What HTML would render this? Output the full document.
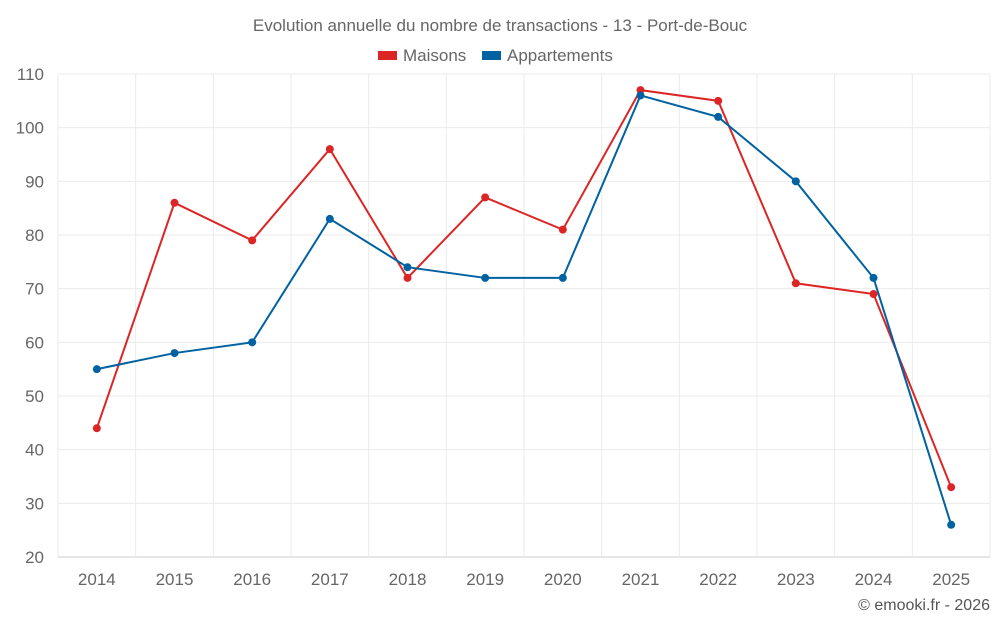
<!DOCTYPE html>
<html><head><meta charset="utf-8"><style>
body{margin:0;background:#fff;font-family:"Liberation Sans",sans-serif}
svg text{font-family:"Liberation Sans",sans-serif}
</style></head><body>
<svg id="c" width="1000" height="625">
<text x="500" y="31" text-anchor="middle" font-size="17" fill="#666">Evolution annuelle du nombre de transactions - 13 - Port-de-Bouc</text>
<g>
<rect x="378" y="51" width="19" height="9" fill="#dc2626"/>
<text x="403" y="61" font-size="17" fill="#666">Maisons</text>
<rect x="482" y="51" width="19" height="9" fill="#0062a0"/>
<text x="507" y="61" font-size="17" fill="#666">Appartements</text>
</g>
<g id="grid"></g><g id="axes"></g><g id="series"></g>
<text x="990" y="610" text-anchor="end" font-size="16" fill="#555">© emooki.fr - 2026</text>
</svg>
<script>
const years=["2014","2015","2016","2017","2018","2019","2020","2021","2022","2023","2024","2025"];
const maisons=[44,86,79,96,72,87,81,107,105,71,69,33];
const appartements=[55,58,60,83,74,72,72,106,102,90,72,26];
const yTicks=[20,30,40,50,60,70,80,90,100,110];
const L=58,R=990,T=74,B=557,yMin=20,yMax=110;
const bw=(R-L)/years.length;
const x=i=>L+bw*(i+0.5);
const y=v=>B-(v-yMin)/(yMax-yMin)*(B-T);
const NS="http://www.w3.org/2000/svg";
function mk(t,a,p){const e=document.createElementNS(NS,t);for(const k in a)e.setAttribute(k,a[k]);p.appendChild(e);return e;}
const g=document.getElementById('grid'),ax=document.getElementById('axes'),s=document.getElementById('series');
yTicks.forEach(v=>{
 const l=mk('line',{x1:L,x2:R,y1:y(v),y2:y(v),stroke:v===yMin?'#ccc':'#ebebeb'},g);
 
 
 const t=mk('text',{x:L-14,y:y(v)+6,'text-anchor':'end','font-size':17,fill:'#666'},ax);
 t.textContent=v;
 
 
});
for(let i=0;i<=years.length;i++){
 const l=mk('line',{x1:L+bw*i,x2:L+bw*i,y1:T,y2:B+(i===0?0:0),stroke:'#ebebeb'},g);
 
 
}
years.forEach((yr,i)=>{
 const t=mk('text',{x:x(i),y:585,'text-anchor':'middle','font-size':17,fill:'#666'},ax);
 t.textContent=yr;
 
 
});
function draw(data,color,name){
 const p=mk('polyline',{points:data.map((v,i)=>x(i)+','+y(v)).join(' '),fill:'none',stroke:color,'stroke-width':2},s);
 
 
 data.forEach((v,i)=>{
  const c=mk('circle',{cx:x(i),cy:y(v),r:4,fill:color},s);
  
  
 });
}
draw(maisons,'#dc2626','maisons');
draw(appartements,'#0062a0','appartements');
</script>
</body></html>
